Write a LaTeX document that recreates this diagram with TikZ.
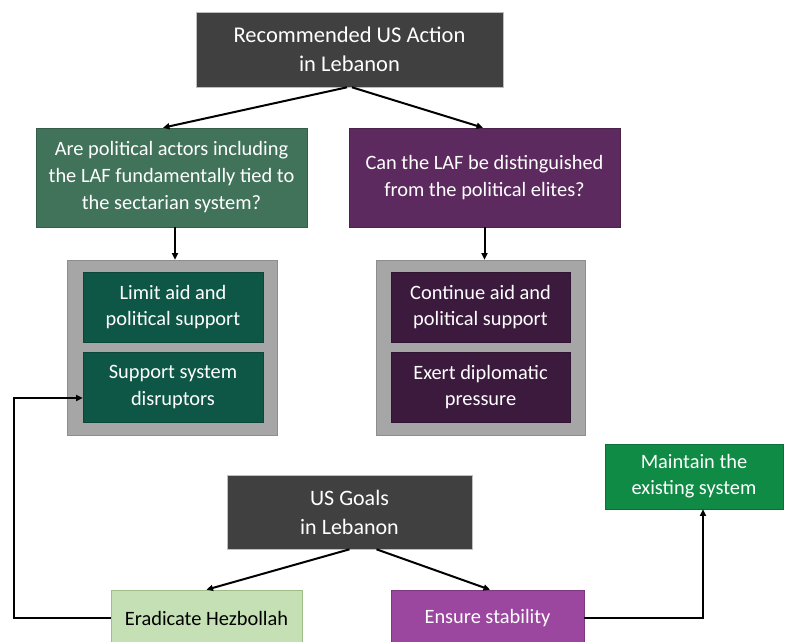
\documentclass[tikz,border=0pt]{standalone}
\usepackage{fontspec}
\setmainfont{Carlito}
\usetikzlibrary{arrows.meta}
\definecolor{darkbox}{HTML}{404040}
\definecolor{darkedge}{HTML}{BFBFBF}
\definecolor{qgreen}{HTML}{41735A}
\definecolor{qpurple}{HTML}{5C2A5E}
\definecolor{igreen}{HTML}{0E5747}
\definecolor{ipurple}{HTML}{3C1A3E}
\definecolor{graybox}{HTML}{A6A6A6}
\definecolor{mgreen}{HTML}{0F8B45}
\definecolor{lgreen}{HTML}{C5E0B4}
\definecolor{lgreenedge}{HTML}{9DBD8A}
\definecolor{epurple}{HTML}{9B479F}
\tikzset{
  boxbase/.style={rectangle, align=center, inner sep=0pt, line width=0.6pt},
  darkstyle/.style={boxbase, fill=darkbox, draw=darkedge, text=white, font=\fontsize{22.5}{29}\selectfont},
  qstyle/.style={boxbase, text=white, font=\fontsize{20.4}{27}\selectfont, minimum width=271pt, minimum height=99pt},
  grayframe/.style={boxbase, fill=graybox, draw=graybox!85!black, minimum width=210pt, minimum height=175pt},
  innerstyle/.style={boxbase, text=white, font=\fontsize{20.4}{26.5}\selectfont, minimum width=180pt, minimum height=70pt},
  goalstyle/.style={boxbase, font=\fontsize{20.4}{26}\selectfont, minimum height=56pt},
  conn/.style={line width=2pt, -{Triangle[length=6.5pt,width=6pt]}}
}
\begin{document}
\begin{tikzpicture}[x=1pt,y=-1pt]
\useasboundingbox (0,0) rectangle (788,641);
% top
\node[darkstyle, minimum width=307pt, minimum height=75pt] (top) at (349.5,49.5) {Recommended US Action\\in Lebanon};
% questions
\node[qstyle, fill=qgreen, draw=qgreen!80!black] (q1) at (171.5,177.5) {Are political actors including\\the LAF fundamentally tied to\\the sectarian system?};
\node[qstyle, fill=qpurple, draw=qpurple!80!black] (q2) at (484.5,177.5) {Can the LAF be distinguished\\from the political elites?};
% gray frames
\node[grayframe] (g1) at (172,347.5) {};
\node[grayframe, minimum width=209pt] (g2) at (480.5,347.5) {};
\node[innerstyle, fill=igreen, draw=igreen!80!black] (a1) at (173,307) {Limit aid and\\political support};
\node[innerstyle, fill=igreen, draw=igreen!80!black] (a2) at (173,387) {Support system\\disruptors};
\node[innerstyle, fill=ipurple, draw=ipurple!80!black, minimum width=179pt] (b1) at (480.5,307) {Continue aid and\\political support};
\node[innerstyle, fill=ipurple, draw=ipurple!80!black, minimum width=179pt] (b2) at (480.5,387) {Exert diplomatic\\pressure};
% goals
\node[darkstyle, font=\fontsize{22}{29}\selectfont, minimum width=245pt, minimum height=74pt] (goals) at (349.5,512) {US Goals\\in Lebanon};
\node[goalstyle, fill=lgreen, draw=lgreenedge, text=black, minimum width=191pt] (erad) at (206.5,618) {Eradicate Hezbollah};
\node[goalstyle, fill=epurple, draw=epurple!80!black, text=white, minimum width=193pt] (ens) at (487.5,618) {Ensure stability};
\node[boxbase, fill=mgreen, draw=mgreen!80!black, text=white, font=\fontsize{20.4}{26}\selectfont, minimum width=178pt, minimum height=65pt] (maint) at (694,476.5) {Maintain the\\existing system};
% connectors
\draw[conn] ([xshift=-2.5pt]top.south) -- ([xshift=-8.5pt]q1.north);
\draw[conn] ([xshift=2.5pt]top.south) -- ([xshift=-1.5pt]q2.north);
\draw[conn] ([xshift=3.5pt]q1.south) -- ([xshift=3.5pt]q1.south |- g1.north);
\draw[conn] (q2.south) -- (q2.south |- g2.north);
\draw[conn] (goals.south) -- (erad.north);
\draw[conn] ([xshift=27pt]goals.south) -- ([xshift=2.5pt]ens.north);
\draw[conn] (ens.east) -| ([xshift=9pt]maint.south);
\coordinate (loopc) at (14,618);
\draw[conn] (erad.west) -- (loopc) |- ([yshift=-11pt]a2.west);
\end{tikzpicture}
\end{document}
